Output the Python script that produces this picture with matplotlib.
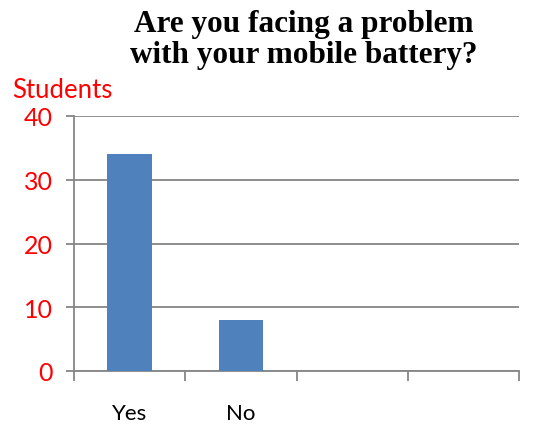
import matplotlib.pyplot as plt
import numpy as np

# Data
categories = ["Yes", "No", "", ""]
students = [34, 8, 0, 0]
y_ticks = [0, 10, 20, 30, 40]

GRID = "#868686"
BAR = "#4f81bd"

fig = plt.figure(figsize=(5.41, 4.27), dpi=100)
ax = fig.add_axes([74 / 541, 1 - 372 / 427, 445 / 541, 255 / 427])

x = np.arange(len(categories))
ax.bar(x[:2], students[:2], width=0.4, color=BAR, zorder=3)

ax.set_xlim(-0.5, len(categories) - 0.5)
ax.set_ylim(0, 40)
ax.set_yticks(y_ticks)
ax.set_yticklabels([str(v) for v in y_ticks], color="red", fontsize=18, family="Lato")
ax.tick_params(axis="y", length=6, width=1.3, color=GRID, pad=9)

# category labels centred, tick marks at category boundaries
ax.set_xticks(x)
ax.set_xticklabels(categories, fontsize=16, family="Lato")
ax.tick_params(axis="x", which="major", length=0, pad=23)
ax.set_xticks(np.arange(-0.5, len(categories)), minor=True)
ax.tick_params(axis="x", which="minor", length=7, width=1.3, color=GRID)

ax.grid(axis="y", color=GRID, linewidth=1.3, zorder=0)
for s in ["top", "right"]:
    ax.spines[s].set_visible(False)
ax.spines["left"].set_color(GRID)
ax.spines["bottom"].set_color(GRID)
ax.spines["left"].set_linewidth(1.3)
ax.spines["bottom"].set_linewidth(1.3)

fig.text(12 / 541, 1 - 90 / 427, "Students", color="red", fontsize=18.5,
         family="Lato", va="center", ha="left")
fig.text(304 / 541, 1 - 40 / 427, "Are you facing a problem\nwith your mobile battery?",
         ha="center", va="center", fontsize=22.5, fontweight="bold",
         family="Liberation Serif", linespacing=1.12)

fig.savefig("out.png", dpi=100)
